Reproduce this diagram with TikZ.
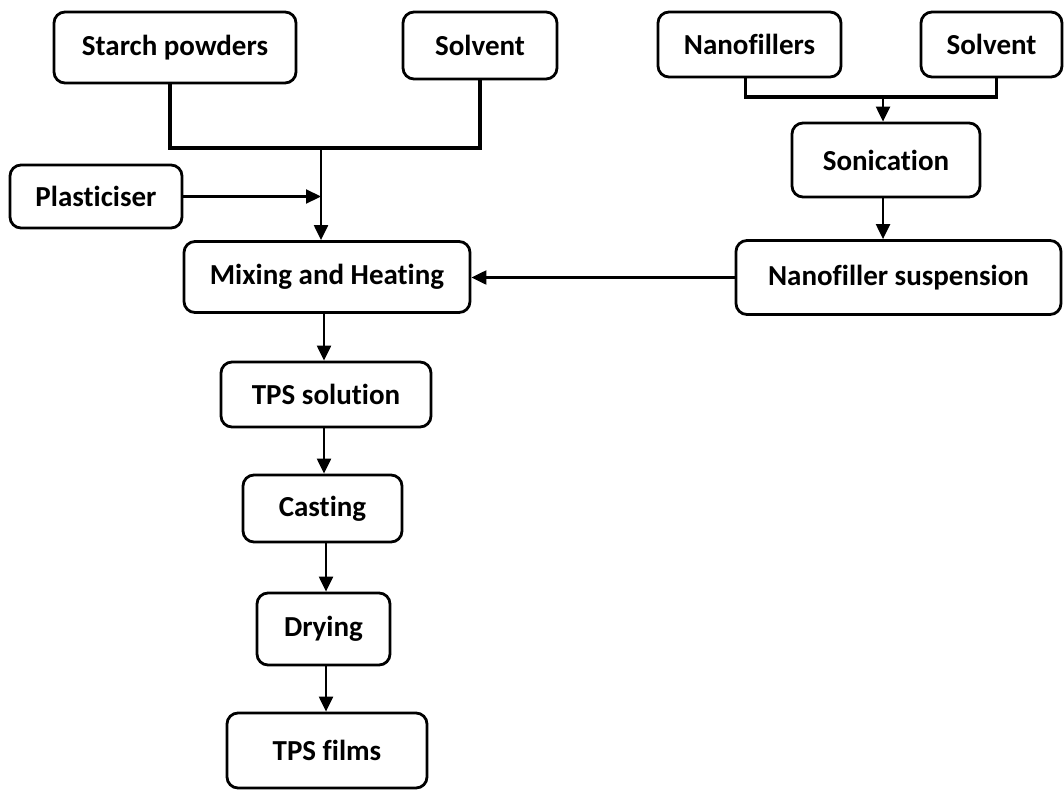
\documentclass[tikz,border=0pt]{standalone}
\usepackage{fontspec}
\setmainfont{Carlito}[Ligatures=NoCommon]
\usetikzlibrary{arrows.meta, calc}

\begin{document}
\begin{tikzpicture}[x=1pt, y=-1pt,
        box/.style={draw, line width=2.8pt, rounded corners=11pt, inner sep=0pt, align=center,
            font=\fontsize{29}{32}\selectfont\bfseries},
        feed/.style={line width=3.2pt},
        flow/.style={line width=2.2pt, -{Triangle[length=15pt, width=14pt]}}]
        \useasboundingbox (0,0) rectangle (1064,790);

        \node[box, minimum width=242pt, minimum height=71pt] (starch) at (175,47.5) {Starch powders};
        \node[box, minimum width=154pt, minimum height=67pt] (solvA) at (480,45.5) {Solvent};
        \node[box, minimum width=172pt, minimum height=63pt] (plast) at (96,196.5) {Plasticiser};
        \node[box, minimum width=286pt, minimum height=71pt] (mixheat) at (327,277) {Mixing and Heating};
        \node[box, minimum width=183pt, minimum height=65pt] (nano) at (749.5,44.5) {Nanofillers};
        \node[box, minimum width=141pt, minimum height=65pt] (solvB) at (991.5,44.5) {Solvent};
        \node[box, minimum width=188pt, minimum height=74pt] (sonic) at (886,160) {Sonication};
        \node[box, minimum width=325pt, minimum height=74pt] (susp) at (898.5,277.5) {Nanofiller suspension};
        \node[box, minimum width=210pt, minimum height=65pt] (tpssol) at (326,394.5) {TPS solution};
        \node[box, minimum width=159pt, minimum height=67pt] (cast) at (322.5,508.5) {Casting};
        \node[box, minimum width=133pt, minimum height=72pt] (dry) at (323.5,629) {Drying};
        \node[box, minimum width=200pt, minimum height=75pt] (films) at (327,750.5) {TPS films};

        \coordinate (jA) at (321,148);
        \coordinate (jB) at (883,97);

        \draw[feed] ([xshift=-5pt]starch.south) |- (jA) -| (solvA.south);
        \draw[flow] (jA) -- (jA |- mixheat.north);
        \draw[flow] (plast.east) -- (jA |- plast.east);
        \draw[feed] ([xshift=-4pt]nano.south) |- (jB) -| ([xshift=5pt]solvB.south);
        \draw[flow] (jB) -- (jB |- sonic.north);
        \draw[flow] (jB |- sonic.south) -- (jB |- susp.north);
        \draw[flow] (susp.west) -- (mixheat.east |- susp.west);
        \draw[flow] ([xshift=-3pt]mixheat.south) -- ([xshift=-3pt]mixheat.south |- tpssol.north);
        \draw[flow] ([xshift=-3pt]mixheat.south |- tpssol.south) -- ([xshift=-3pt]mixheat.south |- cast.north);
        \draw[flow] ([xshift=-1pt]mixheat.south |- cast.south) -- ([xshift=-1pt]mixheat.south |- dry.north);
        \draw[flow] ([xshift=-1pt]mixheat.south |- dry.south) -- ([xshift=-1pt]mixheat.south |- films.north);
\end{tikzpicture}
\end{document}
